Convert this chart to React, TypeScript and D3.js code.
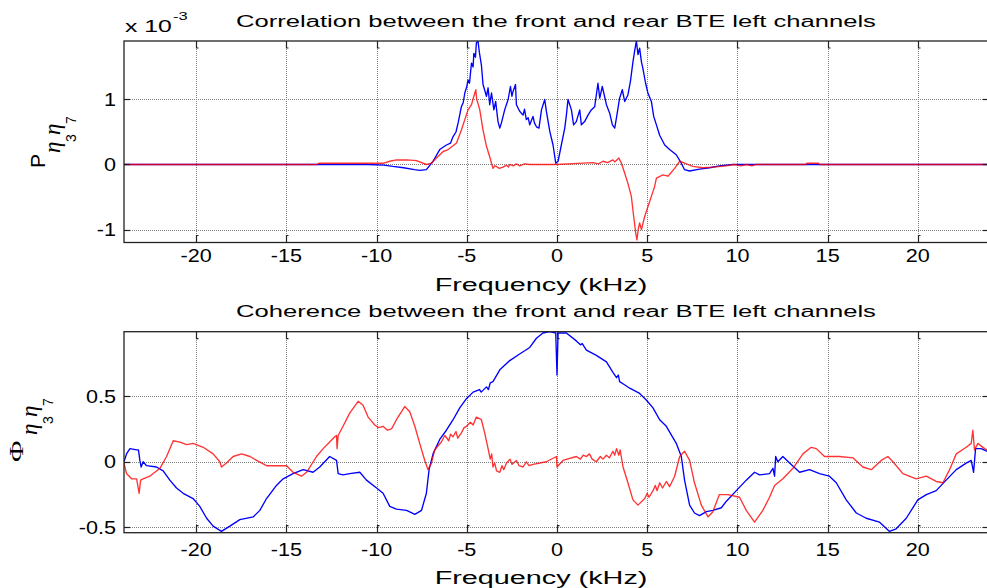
import React from "react";
import * as d3 from "d3";

// Frequency axis (kHz) shared by both panels
const freqTicks = [-20, -15, -10, -5, 0, 5, 10, 15, 20];
const freqTickLabels = ["-20", "-15", "-10", "-5", "0", "5", "10", "15", "20"];

// Cross-power panel, values in units of 1e-3
const corrTicks = [-1, 0, 1];
const corrTickLabels = ["-1", "0", "1"];

// Coherence panel
const cohTicks = [-0.5, 0, 0.5];
const cohTickLabels = ["-0.5", "0", "0.5"];

// [frequency kHz, value x1e-3]
const corrBlue: [number, number][] = [
  [-24, 0], [-10.5, 0], [-9.6, -0.01], [-9.1, -0.03], [-8.5, -0.05], [-7.9, -0.08], [-7.6, -0.09],
  [-7.24, -0.08], [-6.87, 0.05], [-6.5, 0.23], [-6.13, 0.3], [-5.9, 0.33], [-5.76, 0.43], [-5.6, 0.5],
  [-5.48, 0.64], [-5.3, 0.89], [-5.2, 0.95], [-5.11, 1.1], [-5.0, 1.2], [-4.93, 1.3], [-4.85, 1.25],
  [-4.74, 1.56], [-4.65, 1.5], [-4.61, 1.71], [-4.52, 1.65], [-4.47, 1.87], [-4.38, 1.9], [-4.3, 1.72],
  [-4.19, 1.53], [-4.1, 1.23], [-3.91, 1.05], [-3.82, 1.18], [-3.73, 0.92], [-3.63, 1.1], [-3.5, 0.84],
  [-3.4, 0.97], [-3.27, 0.66], [-3.17, 0.56], [-3.08, 0.64], [-2.9, 0.84], [-2.71, 1.0], [-2.58, 1.2],
  [-2.5, 1.05], [-2.44, 1.12], [-2.3, 1.23], [-2.25, 0.92], [-2.07, 0.82], [-1.88, 0.76], [-1.8, 0.85],
  [-1.7, 0.69], [-1.6, 0.72], [-1.51, 0.61], [-1.33, 0.74], [-1.25, 0.64], [-1.14, 0.58], [-1.0, 0.56],
  [-0.86, 0.84], [-0.68, 1.0], [-0.59, 0.82], [-0.4, 0.51], [-0.22, 0.3], [-0.07, 0.02], [0.06, 0.05],
  [0.24, 0.3], [0.43, 0.56], [0.52, 0.76], [0.61, 1.0], [0.8, 0.84], [0.92, 0.61], [1.07, 0.66],
  [1.26, 0.84], [1.35, 0.61], [1.53, 0.66], [1.72, 0.76], [1.9, 0.84], [2.09, 0.89], [2.27, 1.25],
  [2.37, 1.02], [2.51, 1.2], [2.74, 0.92], [2.92, 0.79], [3.07, 0.61], [3.2, 0.56], [3.32, 0.76],
  [3.47, 1.02], [3.62, 1.15], [3.75, 0.97], [3.93, 1.07], [4.07, 1.28], [4.21, 1.58], [4.3, 1.74],
  [4.4, 1.9], [4.49, 1.69], [4.58, 1.79], [4.68, 1.58], [4.76, 1.48], [4.91, 1.25], [5.04, 1.1],
  [5.23, 0.97], [5.36, 0.74], [5.51, 0.61], [5.69, 0.45], [5.97, 0.3], [6.24, 0.23], [6.61, 0.15],
  [6.89, 0.02], [7.07, -0.08], [7.35, -0.1], [7.9, -0.07], [8.46, -0.05], [9.0, -0.02], [9.75, 0],
  [24, 0],
];

const corrRed: [number, number][] = [
  [-24, 0], [-13.3, 0], [-13.2, 0.02], [-9.6, 0.02], [-9.27, 0.05], [-8.9, 0.07], [-8.3, 0.07],
  [-7.79, 0.06], [-7.24, 0], [-6.96, 0.02], [-6.68, 0.1], [-6.31, 0.2], [-6.1, 0.22], [-5.94, 0.25],
  [-5.57, 0.33], [-5.45, 0.42], [-5.3, 0.53], [-5.11, 0.69], [-4.93, 0.84], [-4.74, 0.92], [-4.61, 1.05],
  [-4.5, 1.15], [-4.45, 1.0], [-4.38, 0.94], [-4.28, 0.84], [-4.1, 0.53], [-3.91, 0.28], [-3.73, 0.12],
  [-3.55, -0.06], [-3.45, -0.02], [-3.36, -0.03], [-3.2, -0.06], [-2.99, -0.04], [-2.8, -0.01],
  [-2.7, -0.04], [-2.62, 0], [-2.4, -0.02], [-2.25, 0.01], [-2.07, -0.02], [-1.8, 0.01], [-1.51, 0],
  [-0.03, 0], [1.44, 0.02], [2.0, 0.03], [2.3, 0.01], [2.55, 0.05], [2.8, 0.03], [3.1, 0.07],
  [3.2, 0.04], [3.43, 0.1], [3.57, 0.02], [3.75, -0.13], [3.93, -0.29], [4.12, -0.49], [4.25, -0.8],
  [4.36, -1.05], [4.43, -1.16], [4.5, -1.0], [4.58, -0.9], [4.68, -1.0], [4.86, -0.8], [5.04, -0.65],
  [5.23, -0.49], [5.41, -0.34], [5.51, -0.21], [5.87, -0.16], [6.15, -0.18], [6.52, -0.06], [6.8, 0.05],
  [7.07, 0.02], [7.53, -0.03], [8.09, -0.05], [8.64, -0.04], [9.39, -0.02], [9.8, 0], [10.2, -0.02],
  [10.5, 0], [10.8, -0.02], [11.0, 0], [13.8, 0], [13.85, 0.02], [14.5, 0.02], [14.55, 0], [24, 0],
];

// [frequency kHz, coherence]
const cohBlue: [number, number][] = [
  [-24, 0], [-23.86, 0.06], [-23.67, 0.1], [-23.3, 0.09], [-23.2, 0.09], [-23.12, 0.01], [-23.05, -0.04],
  [-22.94, 0], [-22.75, -0.03], [-22.2, -0.04], [-21.83, -0.07], [-21.46, -0.14], [-21.09, -0.2],
  [-20.72, -0.24], [-20.17, -0.28], [-19.8, -0.34], [-19.42, -0.43], [-19.06, -0.49], [-18.6, -0.53],
  [-18.13, -0.49], [-17.58, -0.44], [-16.84, -0.42], [-16.47, -0.37], [-16.1, -0.28], [-15.55, -0.18],
  [-15.18, -0.13], [-14.63, -0.09], [-14.07, -0.06], [-13.52, -0.08], [-13.15, -0.04], [-12.6, 0.04],
  [-12.22, 0.01], [-12.13, -0.09], [-11.86, -0.1], [-11.49, -0.09], [-10.93, -0.08], [-10.56, -0.14],
  [-10.0, -0.2], [-9.64, -0.24], [-9.27, -0.34], [-8.9, -0.36], [-8.34, -0.37], [-7.88, -0.4],
  [-7.51, -0.37], [-7.24, -0.24], [-7.09, -0.06], [-6.87, 0.06], [-6.5, 0.17], [-6.13, 0.24],
  [-5.76, 0.32], [-5.39, 0.41], [-5.02, 0.48], [-4.65, 0.53], [-4.3, 0.55], [-4.2, 0.53], [-3.91, 0.57],
  [-3.8, 0.55], [-3.7, 0.6], [-3.55, 0.61], [-3.17, 0.7], [-2.62, 0.77], [-2.07, 0.82], [-1.51, 0.87],
  [-1.14, 0.94], [-0.78, 0.98], [-0.4, 0.99], [-0.07, 0.98], [0.0, 0.66], [0.06, 0.98], [0.52, 0.98],
  [1.07, 0.92], [1.3, 0.89], [1.4, 0.9], [1.63, 0.85], [2.18, 0.81], [2.74, 0.76], [3.1, 0.68],
  [3.3, 0.64], [3.4, 0.66], [3.47, 0.61], [3.7, 0.59], [4.03, 0.56], [4.58, 0.52], [4.95, 0.47],
  [5.32, 0.41], [5.69, 0.32], [6.06, 0.27], [6.61, 0.14], [6.89, 0.04], [7.07, -0.14], [7.35, -0.33],
  [7.62, -0.39], [7.9, -0.41], [8.28, -0.38], [8.64, -0.37], [9.11, -0.35], [9.39, -0.3], [9.94, -0.22],
  [10.49, -0.14], [10.95, -0.08], [11.23, -0.1], [11.78, -0.09], [11.97, -0.05], [12.06, -0.11],
  [12.12, 0.04], [12.24, 0], [12.52, 0.04], [12.89, -0.01], [13.45, -0.08], [14.0, -0.06],
  [14.55, -0.09], [15.1, -0.11], [15.48, -0.16], [16.03, -0.29], [16.59, -0.39], [17.14, -0.43],
  [17.88, -0.46], [18.43, -0.53], [18.8, -0.51], [19.36, -0.43], [20.0, -0.29], [20.47, -0.25],
  [21.02, -0.22], [21.57, -0.14], [22.13, -0.06], [22.68, -0.01], [22.96, 0.01], [23.09, -0.08],
  [23.2, 0.1], [23.51, 0.1], [24, 0.07],
];

const cohRed: [number, number][] = [
  [-24, -0.01], [-23.86, -0.09], [-23.58, -0.13], [-23.3, -0.13], [-23.16, -0.24], [-23.08, -0.14],
  [-22.94, -0.13], [-22.57, -0.11], [-22.01, -0.05], [-21.64, 0.04], [-21.27, 0.16], [-20.9, 0.15],
  [-20.53, 0.13], [-20.17, 0.14], [-19.61, 0.11], [-19.06, 0.06], [-18.69, 0], [-18.6, -0.04],
  [-18.32, -0.01], [-17.95, 0.04], [-17.48, 0.06], [-17.02, 0.04], [-16.65, 0.01], [-16.1, -0.03],
  [-15.55, -0.03], [-14.99, -0.03], [-14.63, -0.08], [-14.16, -0.11], [-13.88, -0.08], [-13.33, 0.04],
  [-12.96, 0.1], [-12.6, 0.15], [-12.32, 0.19], [-12.22, 0.2], [-12.19, 0.1], [-12.13, 0.2],
  [-11.86, 0.27], [-11.49, 0.37], [-11.02, 0.46], [-10.75, 0.43], [-10.47, 0.34], [-10.1, 0.28],
  [-9.9, 0.26], [-9.64, 0.27], [-9.4, 0.24], [-9.17, 0.25], [-8.9, 0.32], [-8.44, 0.42], [-8.16, 0.38],
  [-7.88, 0.27], [-7.61, 0.14], [-7.33, 0.01], [-7.15, -0.06], [-6.96, -0.01], [-6.78, 0.09],
  [-6.41, 0.15], [-6.22, 0.2], [-6.0, 0.16], [-5.9, 0.21], [-5.76, 0.19], [-5.6, 0.23], [-5.5, 0.18],
  [-5.3, 0.22], [-5.15, 0.26], [-5.02, 0.27], [-4.8, 0.3], [-4.65, 0.28], [-4.47, 0.34], [-4.19, 0.32],
  [-4.01, 0.22], [-3.82, 0.1], [-3.7, 0.02], [-3.62, 0.06], [-3.55, -0.04], [-3.45, -0.01],
  [-3.35, -0.07], [-3.17, -0.08], [-3.05, -0.03], [-2.95, -0.06], [-2.8, -0.01], [-2.6, 0.02],
  [-2.5, -0.02], [-2.25, 0.01], [-2.1, -0.03], [-1.88, -0.04], [-1.7, 0], [-1.55, -0.03],
  [-1.33, -0.02], [-0.59, 0], [-0.03, 0.04], [0.0, -0.04], [0.33, 0.01], [1.07, 0.04], [1.3, 0.02],
  [1.45, 0.05], [1.63, 0.04], [1.8, 0.06], [1.95, 0.02], [2.18, 0], [2.4, 0.04], [2.55, 0.02],
  [2.74, 0.05], [2.9, 0.03], [3.1, 0.08], [3.2, 0.05], [3.3, 0.1], [3.43, 0.05], [3.5, 0.09],
  [3.66, -0.04], [3.93, -0.16], [4.21, -0.29], [4.49, -0.33], [4.86, -0.28], [5.0, -0.24],
  [5.1, -0.27], [5.32, -0.22], [5.45, -0.18], [5.55, -0.22], [5.69, -0.16], [5.85, -0.2], [6.06, -0.15],
  [6.24, -0.19], [6.52, -0.11], [6.8, 0.04], [7.07, 0.08], [7.35, 0.01], [7.62, -0.16], [8.0, -0.33],
  [8.37, -0.42], [8.64, -0.38], [9.0, -0.25], [9.47, -0.25], [10.12, -0.27], [10.49, -0.37],
  [10.95, -0.46], [11.41, -0.37], [11.78, -0.27], [12.06, -0.18], [12.52, -0.13], [13.08, -0.05],
  [13.63, 0.06], [14.09, 0.11], [14.37, 0.1], [14.83, 0.04], [15.66, 0.04], [16.4, 0.03],
  [16.95, -0.04], [17.42, -0.06], [17.97, 0.01], [18.34, 0.04], [18.62, 0], [19.17, -0.09],
  [19.91, -0.13], [20.47, -0.11], [21.02, -0.15], [21.39, -0.16], [21.76, -0.06], [22.13, 0.06],
  [22.68, 0.11], [22.96, 0.14], [23.05, 0.24], [23.14, 0.09], [23.33, 0.14], [23.7, 0.1], [24, 0.08],
];

const W = 987;
const H = 588;
const SANS = "'Liberation Sans', Arial, Helvetica, sans-serif";
const SERIF = "'Liberation Serif', 'Times New Roman', serif";

// Horizontally widened text
function WText(props: {
  x: number; y: number; size: number; sx: number; anchor?: string; children: React.ReactNode;
}) {
  const { x, y, size, sx, anchor = "start", children } = props;
  return (
    <text
      transform={`translate(${x},${y}) scale(${sx},1)`}
      fontFamily={SANS}
      fontSize={size}
      textAnchor={anchor}
      fill="#000"
    >
      {children}
    </text>
  );
}

type PanelProps = {
  id: string;
  top: number;
  bottom: number;
  yDomain: [number, number];
  yTicks: number[];
  yTickLabels: string[];
  blue: [number, number][];
  red: [number, number][];
  title: string;
  titleY: number;
  tickLabelY: number;
  xLabelY: number;
};

const LEFT = 124;
const RIGHT = 990;

function Panel(p: PanelProps) {
  const x = d3.scaleLinear().domain([-24, 24]).range([LEFT, RIGHT]);
  const y = d3.scaleLinear().domain(p.yDomain).range([p.bottom, p.top]);
  const line = d3
    .line<[number, number]>()
    .x((d) => x(d[0]))
    .y((d) => y(d[1]));
  const tk = 7;
  return (
    <g>
      <defs>
        <clipPath id={`clip-${p.id}`}>
          <rect x={LEFT} y={p.top} width={RIGHT - LEFT} height={p.bottom - p.top} />
        </clipPath>
      </defs>
      {/* grid */}
      <g stroke="#808080" strokeWidth={1} strokeDasharray="1 1" shapeRendering="crispEdges">
        {freqTicks.map((t) => (
          <line key={`gx${t}`} x1={Math.round(x(t)) + 0.5} x2={Math.round(x(t)) + 0.5} y1={p.top} y2={p.bottom} />
        ))}
        {p.yTicks.map((t) => (
          <line key={`gy${t}`} x1={LEFT} x2={RIGHT} y1={Math.round(y(t)) + 0.5} y2={Math.round(y(t)) + 0.5} />
        ))}
      </g>
      {/* curves */}
      <g clipPath={`url(#clip-${p.id})`} fill="none" strokeWidth={1.35} strokeLinejoin="round">
        <path d={line(p.blue) || ""} stroke="#0000ff" />
        <path d={line(p.red) || ""} stroke="#ff0000" strokeOpacity={0.8} />
      </g>
      {/* box */}
      <rect x={LEFT} y={p.top} width={RIGHT - LEFT} height={p.bottom - p.top} fill="none" stroke="#222" strokeWidth={1.3} />
      {/* ticks */}
      <g stroke="#222" strokeWidth={1.2} fill="none">
        {freqTicks.map((t) => {
          const xx = Math.round(x(t)) + 0.5;
          return (
            <g key={`tx${t}`}>
              <path d={`M${xx},${p.top} V${p.top + tk} H${xx + 2}`} />
              <path d={`M${xx},${p.bottom} V${p.bottom - tk} H${xx + 2}`} />
            </g>
          );
        })}
        {p.yTicks.map((t) => {
          const yy = Math.round(y(t)) + 0.5;
          return (
            <g key={`ty${t}`}>
              <path d={`M${LEFT},${yy} H${LEFT + 6}`} />
              <path d={`M${RIGHT},${yy} H${RIGHT - 7}`} />
            </g>
          );
        })}
      </g>
      {/* tick labels */}
      {freqTicks.map((t, i) => (
        <WText key={`lx${t}`} x={x(t)} y={p.tickLabelY} size={18} sx={1.2} anchor="middle">
          {freqTickLabels[i]}
        </WText>
      ))}
      {p.yTicks.map((t, i) => (
        <WText key={`ly${t}`} x={116} y={y(t) + 6.5} size={18} sx={1.2} anchor="end">
          {p.yTickLabels[i]}
        </WText>
      ))}
      <WText x={556} y={p.titleY} size={16} sx={1.6} anchor="middle">
        {p.title}
      </WText>
      <WText x={541} y={p.xLabelY} size={18} sx={1.6} anchor="middle">
        Frequency (kHz)
      </WText>
    </g>
  );
}

export default function App() {
  return (
    <svg
      width={W}
      height={H}
      viewBox={`0 0 ${W} ${H}`}
      style={{ position: "absolute", left: 0, top: 0, background: "#fff", overflow: "hidden" }}
    >
      <rect x={0} y={0} width={W} height={H} fill="#fff" />
      <Panel
        id="corr"
        top={41}
        bottom={242.5}
        yDomain={[-1.2, 1.9]}
        yTicks={corrTicks}
        yTickLabels={corrTickLabels}
        blue={corrBlue}
        red={corrRed}
        title="Correlation between the front and rear BTE left channels"
        titleY={26.5}
        tickLabelY={262}
        xLabelY={291}
      />
      <Panel
        id="coh"
        top={331.7}
        bottom={532.7}
        yDomain={[-0.54, 0.99]}
        yTicks={cohTicks}
        yTickLabels={cohTickLabels}
        blue={cohBlue}
        red={cohRed}
        title="Coherence between the front and rear BTE left channels"
        titleY={317}
        tickLabelY={556}
        xLabelY={584}
      />
      {/* exponent of the upper axis */}
      <WText x={125} y={31.5} size={16} sx={1.55}>x 10</WText>
      <WText x={173} y={20} size={11} sx={1.5}>-3</WText>

      {/* y label: P with eta subscripts */}
      <g transform="translate(45,168) rotate(-90)" fill="#000">
        <text x={0} y={0} fontFamily={SANS} fontSize={21}>P</text>
        <text x={15} y={15} fontFamily={SERIF} fontStyle="italic" fontSize={23}>η</text>
        <text x={26} y={31} fontFamily={SANS} fontSize={14}>3</text>
        <text x={33} y={15} fontFamily={SERIF} fontStyle="italic" fontSize={23}>η</text>
        <text x={44} y={31} fontFamily={SANS} fontSize={14}>7</text>
      </g>
      {/* y label: Phi with eta subscripts */}
      <g transform="translate(23,462) rotate(-90)" fill="#000">
        <text transform="scale(1.55,1)" x={0} y={0} fontFamily={SERIF} fontSize={19}>Φ</text>
        <text x={27} y={14} fontFamily={SERIF} fontStyle="italic" fontSize={23}>η</text>
        <text x={38} y={30} fontFamily={SANS} fontSize={14}>3</text>
        <text x={45} y={14} fontFamily={SERIF} fontStyle="italic" fontSize={23}>η</text>
        <text x={56} y={30} fontFamily={SANS} fontSize={14}>7</text>
      </g>
    </svg>
  );
}
